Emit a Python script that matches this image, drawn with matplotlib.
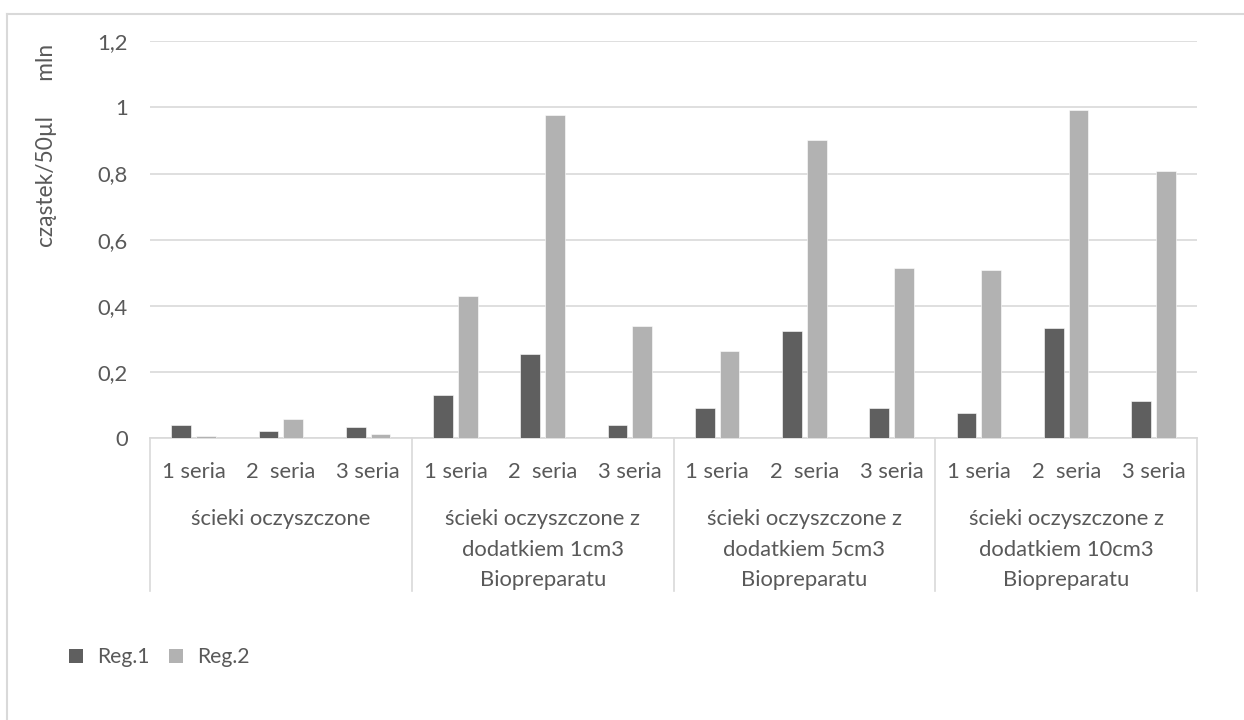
import matplotlib
matplotlib.use("Agg")
import matplotlib.pyplot as plt
import matplotlib.transforms as mtransforms
from matplotlib.patches import Patch
import numpy as np

plt.rcParams['font.family'] = ['Lato', 'DejaVu Sans']

# Data
series_labels = ["1 seria", "2  seria", "3 seria"]
group_labels = [
    "ścieki oczyszczone",
    "ścieki oczyszczone z\ndodatkiem 1cm3\nBiopreparatu",
    "ścieki oczyszczone z\ndodatkiem 5cm3\nBiopreparatu",
    "ścieki oczyszczone z\ndodatkiem 10cm3\nBiopreparatu",
]
reg1 = [0.040, 0.022, 0.033,
        0.131, 0.256, 0.039,
        0.091, 0.323, 0.093,
        0.077, 0.332, 0.112]
reg2 = [0.007, 0.058, 0.013,
        0.431, 0.977, 0.338,
        0.265, 0.901, 0.514,
        0.507, 0.991, 0.807]
legend_labels = ["Reg.1", "Reg.2"]
y_ticks = [0, 0.2, 0.4, 0.6, 0.8, 1.0, 1.2]
y_tick_labels = ["0", "0,2", "0,4", "0,6", "0,8", "1", "1,2"]
y_title = "cząstek/50µl      mln"

W, H = 1244, 720
TXT = "#595959"
C1, C2 = "#5F5F5F", "#B2B2B2"
GRID = "#D9D9D9"
FS = 15.8

fig = plt.figure(figsize=(W / 100, H / 100), dpi=100)

# Plot area in pixel coordinates
x0, x1 = 150, 1197
ytop, ybot = 41.1, 438.3
ax = fig.add_axes([x0 / W, 1 - ybot / H, (x1 - x0) / W, (ybot - ytop) / H])

n = len(reg1)
x = np.arange(n)
bw = 0.224
off = 0.142
ax.bar(x - off, reg1, width=bw, color=C1, edgecolor="white", linewidth=0.4, zorder=3)
ax.bar(x + off, reg2, width=bw, color=C2, edgecolor="white", linewidth=0.4, zorder=3)

ax.set_xlim(-0.5, n - 0.5)
ax.set_ylim(0, 1.2)
ax.set_yticks(y_ticks)
ax.set_yticklabels(y_tick_labels, color=TXT, fontsize=FS)
ax.tick_params(axis="y", length=0, pad=16)
ax.set_xticks([])
ax.yaxis.grid(True, color=GRID, linewidth=1.2, zorder=0)
ax.set_axisbelow(True)
for s in ["top", "right", "left"]:
    ax.spines[s].set_visible(False)
ax.spines["bottom"].set_color(GRID)
ax.spines["bottom"].set_linewidth(1.2)

# Multi-level category axis
trans = mtransforms.blended_transform_factory(ax.transData, ax.transAxes)
axh = ybot - ytop


def yfrac(py):
    return -(py - ybot) / axh


ngroups = len(group_labels)
per = n // ngroups
for g in range(ngroups + 1):
    xb = g * per - 0.5
    ax.plot([xb, xb], [0, yfrac(590.7)], transform=trans, color=GRID,
            linewidth=1.2, clip_on=False)

for i in range(n):
    ax.text(x[i], yfrac(472), series_labels[i % per], transform=trans,
            ha="center", va="center", color=TXT, fontsize=FS)

for g, lab in enumerate(group_labels):
    xc = g * per + (per - 1) / 2
    for k, line in enumerate(lab.split("\n")):
        ax.text(xc, yfrac(519 + 30.5 * k), line, transform=trans,
                ha="center", va="center", color=TXT, fontsize=FS)

# Axis title
fig.text(47 / W, 1 - 44 / H, y_title, rotation=90, ha="center", va="top",
         color=TXT, fontsize=FS + 0.6)

# Legend
handles = [Patch(facecolor=C1, edgecolor="none"), Patch(facecolor=C2, edgecolor="none")]
fig.legend(handles, legend_labels, loc="center left",
           bbox_to_anchor=(69 / W, 1 - 657 / H), ncol=2, frameon=False,
           fontsize=FS - 0.6, labelcolor=TXT, handlelength=0.65, handleheight=0.65,
           handletextpad=0.7, columnspacing=0.9, borderpad=0, borderaxespad=0)

# Chart border (top and left edges)
fig.add_artist(plt.Line2D([7 / W, 1], [1 - 14 / H, 1 - 14 / H], color=GRID,
                          linewidth=1.5, transform=fig.transFigure))
fig.add_artist(plt.Line2D([7 / W, 7 / W], [0, 1 - 14 / H], color=GRID,
                          linewidth=1.5, transform=fig.transFigure))

fig.savefig("out.png", dpi=100, facecolor="white")
